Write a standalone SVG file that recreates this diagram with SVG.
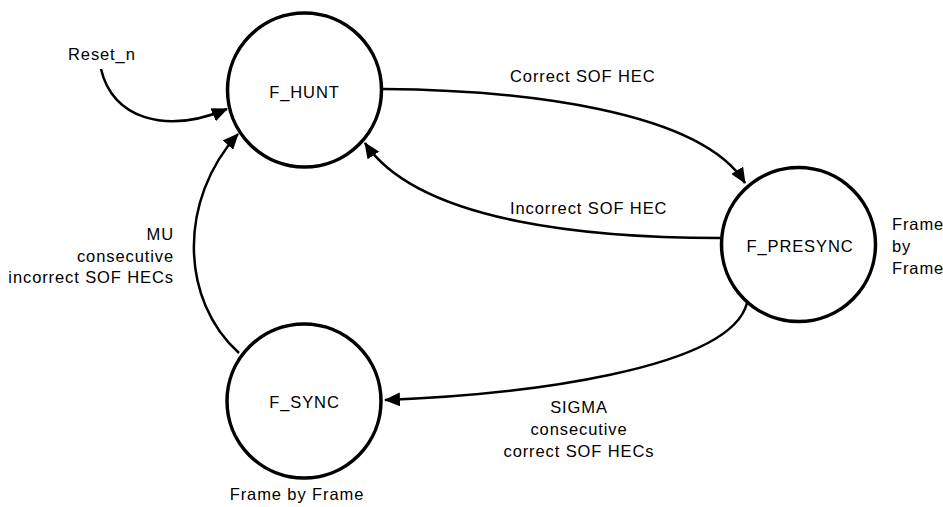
<svg xmlns="http://www.w3.org/2000/svg" width="943" height="507" viewBox="0 0 943 507">
<style>
text{font-family:"Liberation Sans",Arial,sans-serif;font-size:16.5px;letter-spacing:0.9px;fill:#000}
.st{fill:#fff;stroke:#000;stroke-width:3.5}
.c{fill:none;stroke:#000;stroke-width:2.5}
.m{text-anchor:middle}
.e{text-anchor:end}
</style>
<defs>
<marker id="a" markerUnits="userSpaceOnUse" markerWidth="16" markerHeight="14" refX="15" refY="7" orient="auto">
<path d="M0,0 L16,7 L0,14 Z" fill="#000"/>
</marker>
</defs>
<g id="connectors">
<path class="c" d="M101,69 C112,118 165,135 227,109" marker-end="url(#a)"/>
<path class="c" d="M239,353 C180,300 178,200 238,134" marker-end="url(#a)"/>
<path class="c" d="M383,89 C520,90 700,110 745,183" marker-end="url(#a)"/>
<path class="c" d="M720,238 C600,238 420,225 365,143" marker-end="url(#a)"/>
<path class="c" d="M747,303 C730,370 520,395 385,400" marker-end="url(#a)"/>
</g>
<g id="labels">
<text x="68" y="60">Reset_n</text>
<text x="510" y="82">Correct SOF HEC</text>
<text x="510" y="214">Incorrect SOF HEC</text>
<text class="e" x="174" y="240">MU</text>
<text class="e" x="174" y="262">consecutive</text>
<text class="e" x="174" y="283">incorrect SOF HECs</text>
<text class="m" x="579" y="413">SIGMA</text>
<text class="m" x="579" y="435">consecutive</text>
<text class="m" x="579" y="457">correct SOF HECs</text>
</g>
<g id="F_HUNT">
<circle class="st" cx="304.5" cy="90" r="77"/>
<text class="m" x="304.5" y="98">F_HUNT</text>
</g>
<g id="F_PRESYNC">
<circle class="st" cx="798.5" cy="244.5" r="77"/>
<text class="m" x="800" y="252">F_PRESYNC</text>
<text x="892" y="230">Frame</text>
<text x="892" y="252">by</text>
<text x="892" y="274">Frame</text>
</g>
<g id="F_SYNC">
<circle class="st" cx="304" cy="401" r="77"/>
<text class="m" x="304.5" y="408">F_SYNC</text>
<text class="m" x="297" y="500">Frame by Frame</text>
</g>
</svg>
